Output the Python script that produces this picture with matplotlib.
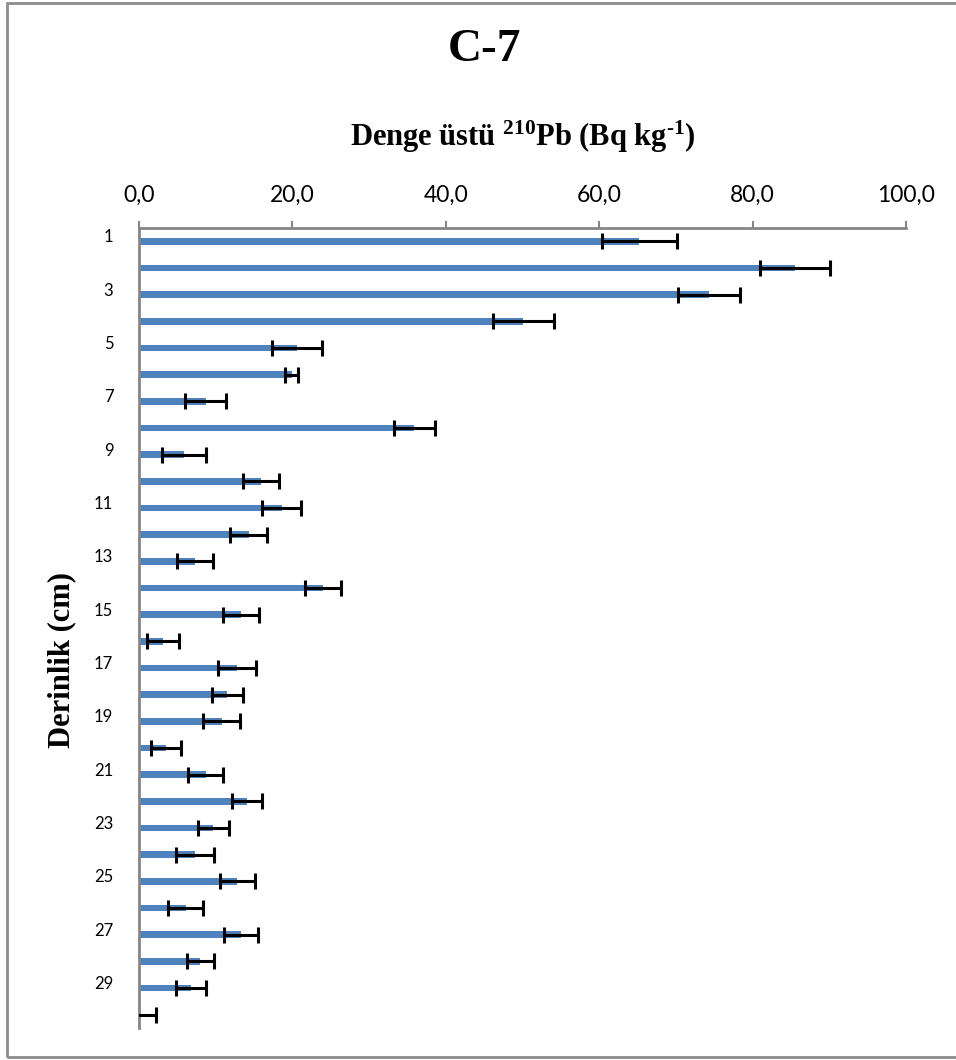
import matplotlib
matplotlib.use("Agg")
import matplotlib.pyplot as plt
from matplotlib.patches import Rectangle
from matplotlib.transforms import ScaledTranslation

# Excess 210Pb activity per 1 cm depth slice, core C-7
depths = list(range(1, 31))
activity = [65.2, 85.5, 74.3, 50.1, 20.6, 19.9, 8.7, 35.9, 5.9, 15.9,
            18.6, 14.3, 7.3, 24.0, 13.3, 3.1, 12.8, 11.5, 10.8, 3.5,
            8.7, 14.1, 9.7, 7.3, 12.8, 6.1, 13.3, 8.0, 6.8, 0.0]
uncertainty = [4.9, 4.6, 4.0, 4.0, 3.2, 0.8, 2.7, 2.7, 2.9, 2.3,
               2.5, 2.4, 2.3, 2.4, 2.3, 2.1, 2.5, 2.0, 2.4, 2.0,
               2.3, 2.0, 2.0, 2.5, 2.3, 2.3, 2.2, 1.8, 2.0, 2.2]
x_ticks = [0, 20, 40, 60, 80, 100]
depth_labels = [str(d) for d in depths if d % 2 == 1]
depth_label_pos = [d for d in depths if d % 2 == 1]

plt.rcParams['mathtext.fontset'] = 'custom'
plt.rcParams['mathtext.rm'] = 'Liberation Serif:bold'
plt.rcParams['mathtext.bf'] = 'Liberation Serif:bold'
plt.rcParams['mathtext.it'] = 'Liberation Serif:bold'

W, H = 956, 1060
fig = plt.figure(figsize=(W / 100, H / 100), dpi=100)

# chart-area frame
fig.patches.append(Rectangle((6.5 / W, 1 - 1057 / H), (980 - 6.5) / W, (1057 - 3) / H,
                             transform=fig.transFigure, fill=False,
                             edgecolor='#8c8c8c', linewidth=2.0, clip_on=False))

left, right, top, bottom = 139, 906, 228, 1028
ax = fig.add_axes([left / W, 1 - bottom / H, (right - left) / W, (bottom - top) / H])

ax.barh(depths, activity, height=0.26, color='#4F81BD', zorder=2)
ax.errorbar(activity, depths, xerr=uncertainty, fmt='none', ecolor='black',
            elinewidth=2.2, capsize=6, capthick=2.2, zorder=3)

ax.set_xlim(0, 100)
ax.set_ylim(30.5, 0.5)

for s in ['right', 'bottom']:
    ax.spines[s].set_visible(False)
for s in ['left', 'top']:
    ax.spines[s].set_color('#868686')
    ax.spines[s].set_linewidth(2)

ax.xaxis.set_ticks_position('top')
ax.set_xticks(x_ticks)
ax.set_xticklabels([f"{v:.1f}".replace('.', ',') for v in x_ticks],
                   fontfamily='Lato', fontsize=16.5)
ax.tick_params(axis='x', direction='out', length=5, width=1.5, color='#868686', pad=11)

ax.set_yticks(depth_label_pos)
ax.set_yticklabels(depth_labels, fontfamily='Lato', fontsize=12)
ax.tick_params(axis='y', length=0, pad=18.5)
# depth labels sit a little above the bar centres
lift = ScaledTranslation(0, 4 / 72, fig.dpi_scale_trans)
for lbl in ax.get_yticklabels():
    lbl.set_transform(lbl.get_transform() + lift)

fig.text(484 / W, 1 - 50 / H, 'C-7', ha='center', va='center',
         fontfamily='Liberation Serif', fontweight='bold', fontsize=34)
fig.text((left + right) / 2 / W, 1 - 137 / H,
         r'Denge üstü $^{210}$Pb (Bq kg$^{\text{-1}}$)', ha='center', va='center',
         fontfamily='Liberation Serif', fontweight='bold', fontsize=22)
fig.text(62 / W, 1 - 660 / H, 'Derinlik (cm)', rotation=90, ha='center', va='center',
         fontfamily='Liberation Serif', fontweight='bold', fontsize=22)

fig.savefig('out.png', dpi=100)
